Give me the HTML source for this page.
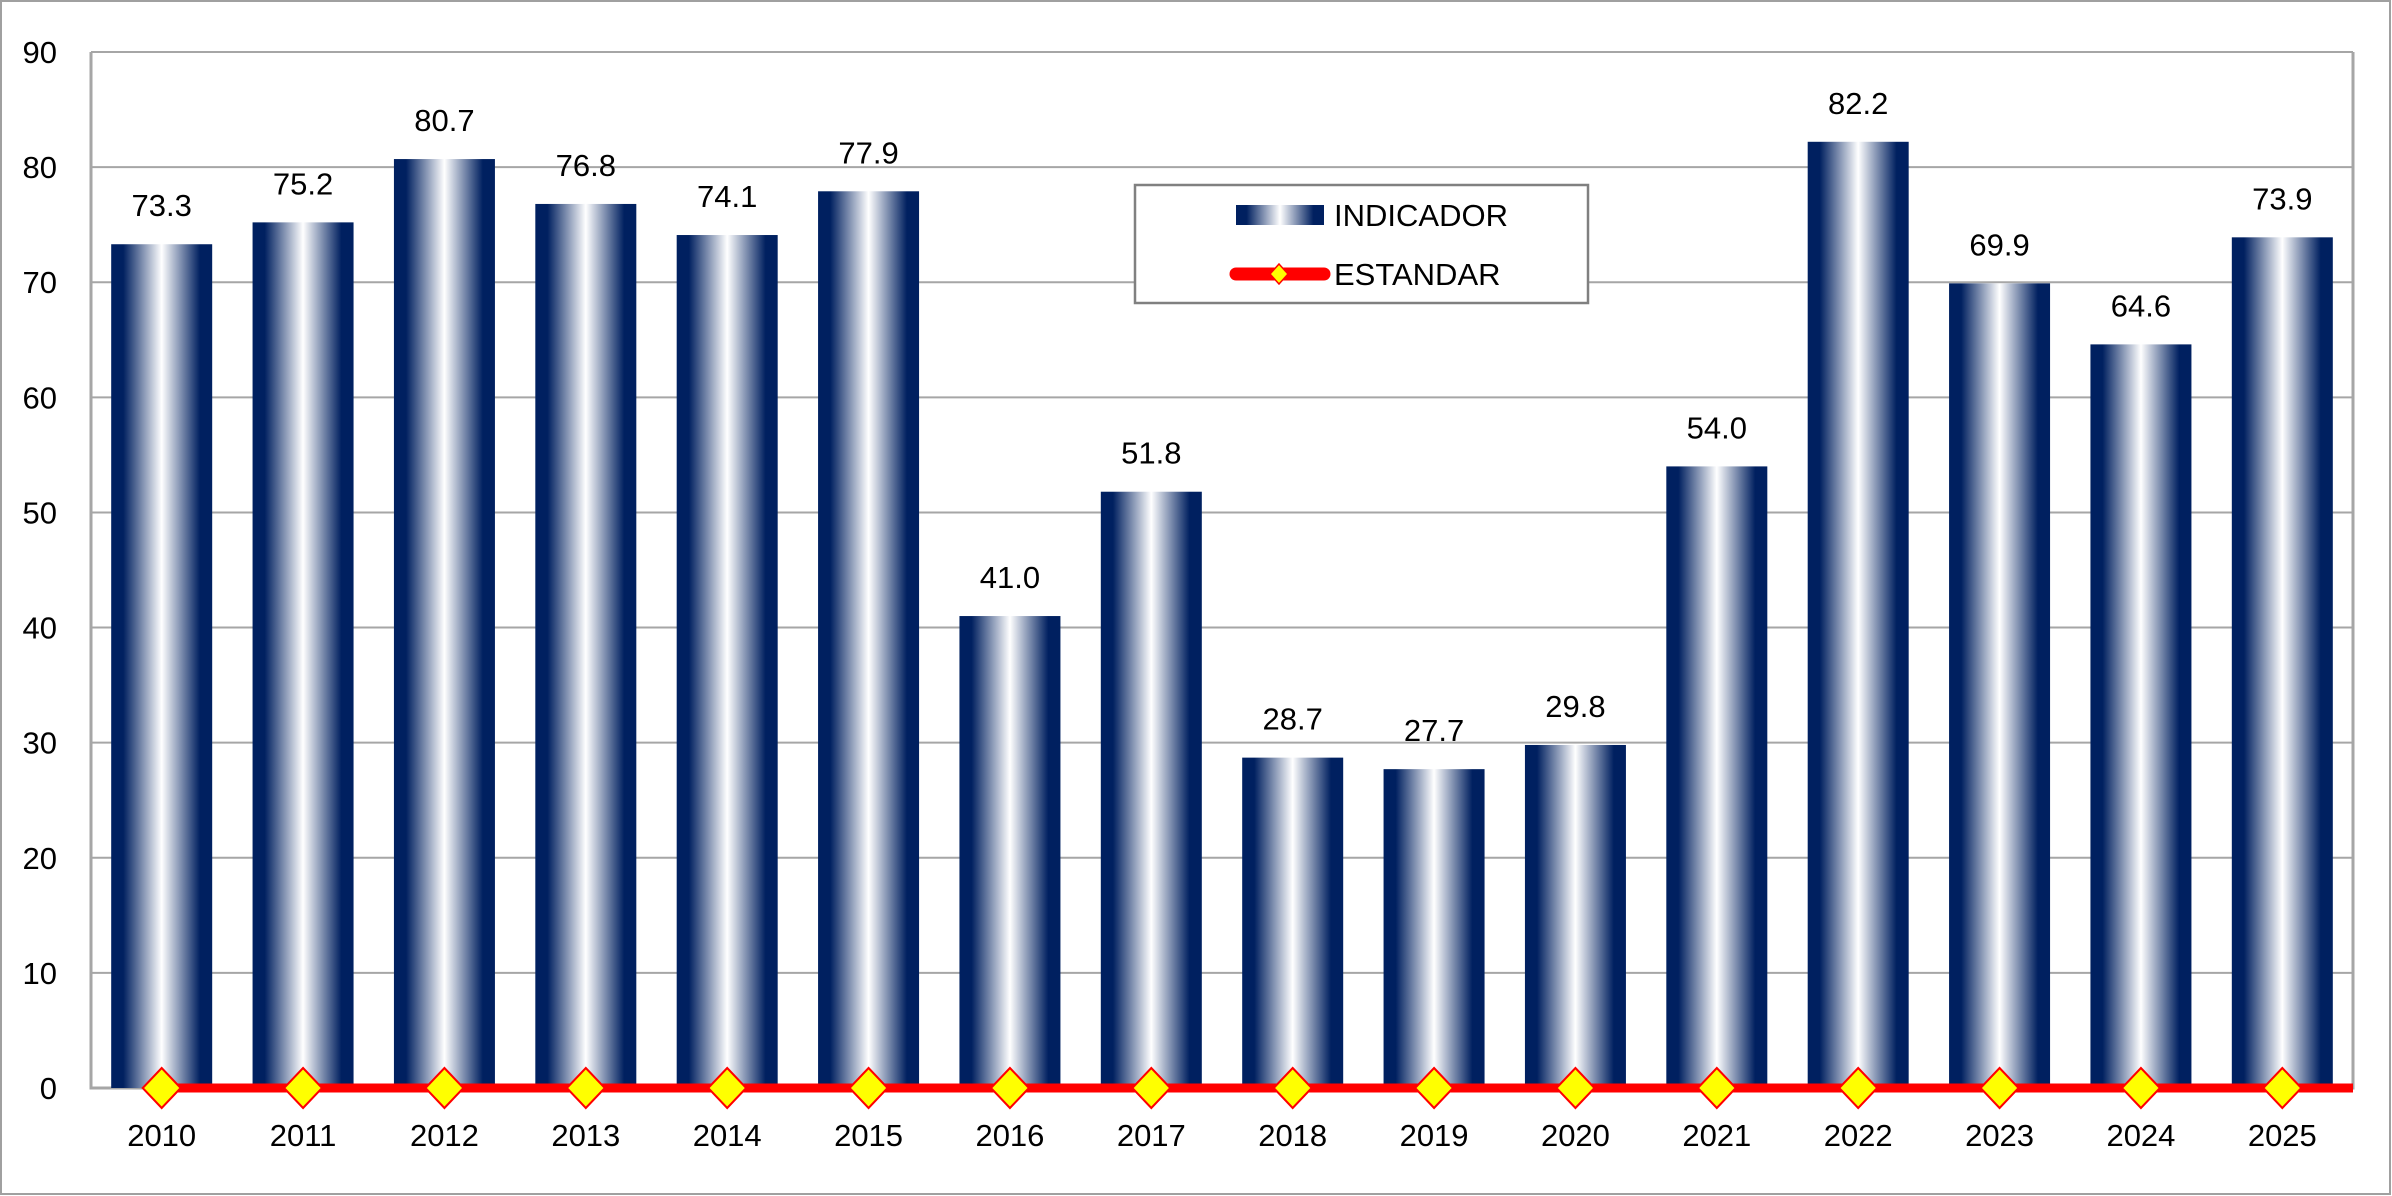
<!DOCTYPE html>
<html><head><meta charset="utf-8"><style>
html,body{margin:0;padding:0;background:#fff}
svg{display:block}
text{font-family:"Liberation Sans",sans-serif;fill:#000}
</style></head><body>
<svg width="2392" height="1196" viewBox="0 0 2392 1196" xmlns="http://www.w3.org/2000/svg">
<defs>
<linearGradient id="g" x1="0" x2="1" y1="0" y2="0">
<stop offset="0" stop-color="#002060"/><stop offset="0.12" stop-color="#002060"/>
<stop offset="0.5" stop-color="#ffffff"/><stop offset="0.88" stop-color="#002060"/>
<stop offset="1" stop-color="#002060"/>
</linearGradient>
</defs>
<rect x="1" y="1" width="2389" height="1193" fill="#fff" stroke="#a0a0a0" stroke-width="2"/>
<g id="c"></g>
<script>
const svg=document.querySelector('svg');const ns='http://www.w3.org/2000/svg';
function el(t,a,txt){const e=document.createElementNS(ns,t);for(const k in a)e.setAttribute(k,a[k]);if(txt!==undefined)e.textContent=txt;svg.appendChild(e);return e;}
const L=91,R=2353,T=52,B=1088,pv=(B-T)/90,cw=(R-L)/16;
for(let v=0;v<=90;v+=10){const y=B-v*pv;
 if(v>0)el('line',{x1:L,x2:R,y1:y,y2:y,stroke:'#a6a6a6','stroke-width':2});
 el('text',{x:57,y:y+11,'text-anchor':'end','font-size':31},String(v));}
el('polyline',{points:`${L},${T} ${L},${B} ${R},${B} ${R},${T}`,fill:'none',stroke:'#a6a6a6','stroke-width':3});
const d=[73.3,75.2,80.7,76.8,74.1,77.9,41.0,51.8,28.7,27.7,29.8,54.0,82.2,69.9,64.6,73.9];
d.forEach((v,i)=>{const cx=L+cw*(i+0.5),y=B-v*pv;
 el('rect',{x:cx-50.5,y:y,width:101,height:B-y,fill:'url(#g)'});
 el('text',{x:cx,y:y-28,'text-anchor':'middle','font-size':31},v.toFixed(1));
 el('text',{x:cx,y:1146,'text-anchor':'middle','font-size':31},String(2010+i));});
el('line',{x1:L+cw*0.5,x2:R,y1:B,y2:B,stroke:'#ff0000','stroke-width':9});
d.forEach((v,i)=>{const cx=L+cw*(i+0.5);
 el('polygon',{points:`${cx},${B-20} ${cx+19},${B} ${cx},${B+20} ${cx-19},${B}`,fill:'#ffff00',stroke:'#ff0000','stroke-width':2});});
// legend
el('rect',{x:1135,y:185,width:453,height:118,fill:'#fff',stroke:'#808080','stroke-width':2.5});
el('rect',{x:1236,y:205,width:88,height:20,fill:'url(#g)'});
el('text',{x:1334,y:226,'font-size':31},'INDICATOR'.replace('INDICATOR','INDICADOR'));
el('line',{x1:1236,x2:1324,y1:274,y2:274,stroke:'#ff0000','stroke-width':13,'stroke-linecap':'round'});
el('polygon',{points:'1279,264 1288,274 1279,284 1270,274',fill:'#ffff00',stroke:'#ff0000','stroke-width':1.5});
el('text',{x:1334,y:285,'font-size':31},'ESTANDAR');
</script>
</svg>
</body></html>
